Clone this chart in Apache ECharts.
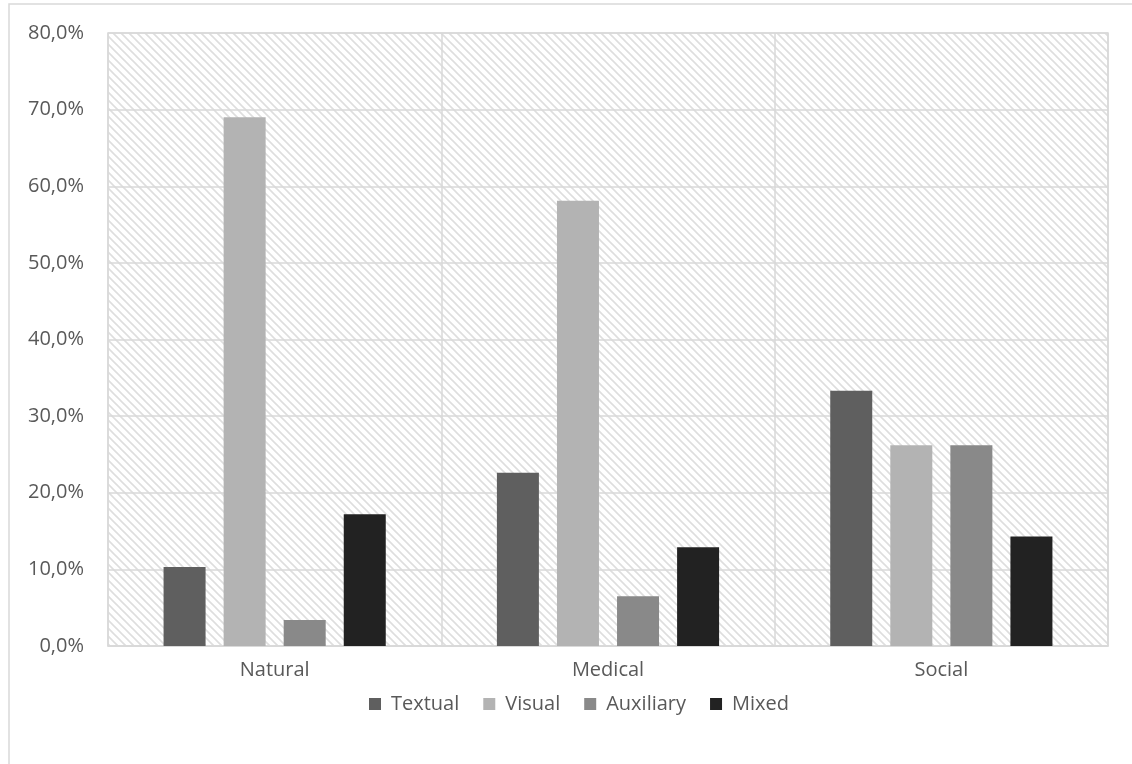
<!DOCTYPE html>
<html>
<head>
<meta charset="utf-8">
<script src="https://cdn.jsdelivr.net/npm/echarts@6/dist/echarts.min.js"></script>
<style>
  html, body { margin: 0; padding: 0; background: #ffffff; }
  #chart { width: 1132px; height: 764px; }
</style>
</head>
<body>
<div id="chart"></div>
<script>
// Share of visualization types by field (percent)
const categories = ['Natural', 'Medical', 'Social'];
const seriesNames = ['Textual', 'Visual', 'Auxiliary', 'Mixed'];
const textual   = [10.3, 22.6, 33.3];
const visual    = [69.0, 58.1, 26.2];
const auxiliary = [3.4, 6.5, 26.2];
const mixed     = [17.2, 12.9, 14.3];
const yTicks    = [0, 10, 20, 30, 40, 50, 60, 70, 80];

const seriesValues = [textual, visual, auxiliary, mixed];
const seriesColors = ['#5f5f5f', '#b3b3b3', '#898989', '#222222'];

// Light diagonal hatch for the plot background
function makeHatch() {
  const c = document.createElement('canvas');
  const s = 8;
  c.width = s; c.height = s;
  const g = c.getContext('2d');
  g.fillStyle = '#ffffff';
  g.fillRect(0, 0, s, s);
  g.strokeStyle = '#dedede';
  g.lineWidth = 1.6;
  g.beginPath();
  g.moveTo(-2, -2); g.lineTo(s + 2, s + 2);
  g.moveTo(-2, s - 2); g.lineTo(2, s + 2);
  g.moveTo(s - 2, -2); g.lineTo(s + 2, 2);
  g.stroke();
  return c;
}

const textColor = '#595959';
const fontFamily = '"Open Sans", "Liberation Sans", sans-serif';

const chart = echarts.init(document.getElementById('chart'), null, { renderer: 'canvas' });
chart.setOption({
  backgroundColor: '#ffffff',
  animation: false,
  textStyle: { fontFamily: fontFamily },
  graphic: [{
    type: 'rect',
    shape: { x: 9, y: 4, width: 1200, height: 800 },
    style: { fill: 'none', stroke: '#d9d9d9', lineWidth: 1.5 },
    silent: true,
    z: -10
  }],
  grid: {
    left: 108, right: 24, top: 33, bottom: 118,
    show: true,
    backgroundColor: { image: makeHatch(), repeat: 'repeat' },
    borderColor: '#d9d9d9',
    borderWidth: 1.5
  },
  legend: {
    bottom: 45,
    left: 364,
    icon: 'rect',
    itemWidth: 12,
    itemHeight: 12,
    itemGap: 24,
    data: seriesNames,
    textStyle: { color: textColor, fontSize: 20, fontFamily: fontFamily, padding: [0, 0, 0, 5] }
  },
  xAxis: {
    type: 'category',
    data: categories,
    axisLine: { show: true, lineStyle: { color: '#d9d9d9', width: 1.5 } },
    axisTick: { show: false },
    axisLabel: { color: textColor, fontSize: 20, margin: 14, fontFamily: fontFamily },
    splitLine: { show: true, lineStyle: { color: '#d9d9d9', width: 1.5 } }
  },
  yAxis: {
    type: 'value',
    min: yTicks[0],
    max: yTicks[yTicks.length - 1],
    interval: 10,
    axisLine: { show: false },
    axisTick: { show: false },
    axisLabel: {
      color: textColor, fontSize: 20, margin: 24, fontFamily: fontFamily,
      formatter: v => v.toFixed(1).replace('.', ',') + '%'
    },
    splitLine: { show: true, lineStyle: { color: '#d9d9d9', width: 1.5 } }
  },
  series: seriesNames.map((name, i) => ({
    name: name,
    type: 'bar',
    data: seriesValues[i],
    barWidth: 42,
    barGap: '43%',
    itemStyle: { color: seriesColors[i] }
  }))
});
</script>
</body>
</html>
